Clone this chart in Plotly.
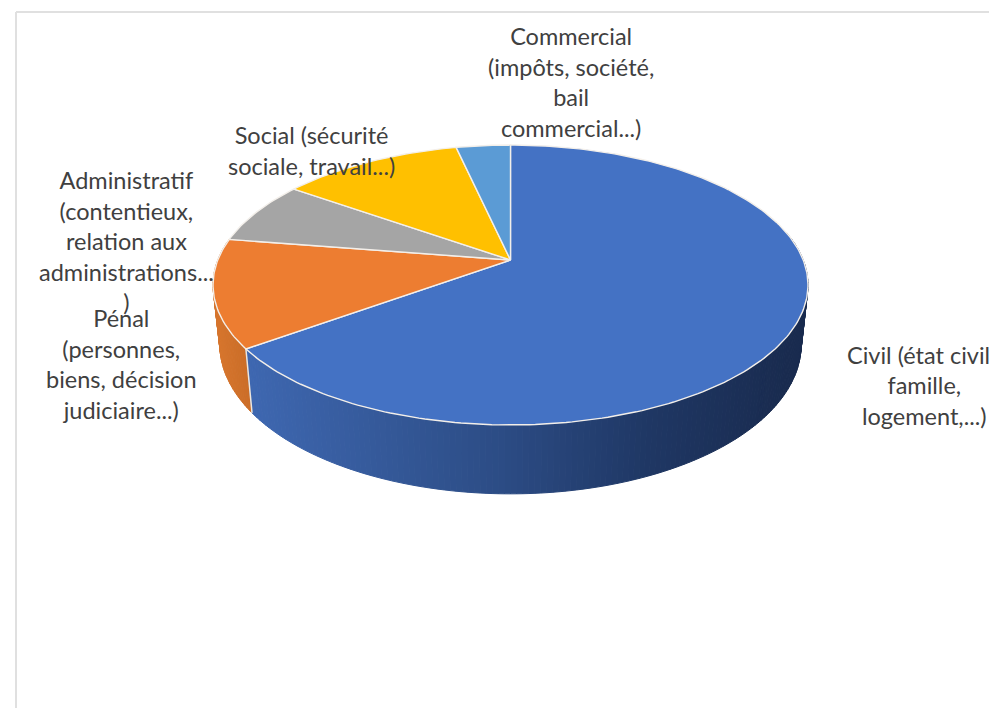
import math
import plotly.graph_objects as go

# ---- data ----
categories = [
    "Civil (état civil",
    "famille,<br>logement,...)",
    "Pénal<br>(personnes,<br>biens, décision<br>judiciaire...)",
    "Administratif<br>(contentieux,<br>relation aux<br>administrations...<br>)",
    "Social (sécurité<br>sociale, travail...)",
    "Commercial<br>(impôts, société,<br>bail<br>commercial...)",
]
values = [65.0, 12.5, 7.3, 11.7, 3.5]
colors = ["#4472C4", "#ED7D31", "#A5A5A5", "#FFC000", "#5B9BD5"]
label_x = [918.5, 924, 121, 126, 311, 571]
label_y = [354.5, 400, 364, 241, 150, 82]

# ---- projection of the tilted pie onto the page ----
APEX_X, APEX_Y = 510.5, 260.0
A, B, K = 292.7, 135.5, 0.1786
DEPTH, SX, SY = 58.0, 0.977, 1.066
TEXT = "#404040"
BLUE_STOPS = [(250, (62, 103, 176)), (500, (44, 76, 133)), (650, (31, 55, 100)), (790, (25, 43, 79))]
ORANGE_STOPS = [(215, (214, 117, 45)), (252, (200, 107, 38))]


def top(theta):
    u, v = math.sin(theta), math.cos(theta)
    w = 1 + K * v
    return APEX_X + A * u / w, APEX_Y - B * v / w


def bottom(theta):
    u, v = math.sin(theta), math.cos(theta)
    w = 1 + K * v
    return APEX_X + SX * A * u / w, APEX_Y + DEPTH - SY * B * v / w


def mix(stops, x):
    if x <= stops[0][0]:
        c = stops[0][1]
    elif x >= stops[-1][0]:
        c = stops[-1][1]
    else:
        for (x0, c0), (x1, c1) in zip(stops, stops[1:]):
            if x0 <= x <= x1:
                t = (x - x0) / (x1 - x0)
                c = tuple(round(a + (b - a) * t) for a, b in zip(c0, c1))
                break
    return "rgb(%d,%d,%d)" % tuple(c)


total = sum(values)
edges = [0.0]
for val in values:
    edges.append(edges[-1] + val / total * 2 * math.pi)

fig = go.Figure()


def poly(xs, ys, fill, line, width):
    fig.add_trace(go.Scatter(x=xs, y=ys, mode="lines", fill="toself", fillcolor=fill,
                             line=dict(color=line, width=width), hoverinfo="skip", showlegend=False))


# side wall: short strips between the upper and lower rims, front part only
wall_from, wall_to = math.radians(78), math.radians(282)
for i, stops in [(1, ORANGE_STOPS), (0, BLUE_STOPS)]:
    a0 = max(edges[i], wall_from)
    a1 = min(edges[i + 1], wall_to)
    n = max(2, int(math.degrees(a1 - a0)))
    for j in range(n):
        t0 = a0 + (a1 - a0) * j / n
        t1 = a0 + (a1 - a0) * (j + 1) / n
        p = [top(t0), top(t1), bottom(t1), bottom(t0), top(t0)]
        c = mix(stops, (p[0][0] + p[1][0]) / 2)
        poly([q[0] for q in p], [q[1] for q in p], c, c, 1)

# seam between the blue and the orange walls
seam = edges[1]
fig.add_trace(go.Scatter(x=[top(seam)[0], bottom(seam)[0]], y=[top(seam)[1], bottom(seam)[1]], mode="lines",
                         line=dict(color="#EFE6DC", width=1.5), hoverinfo="skip", showlegend=False))

# top face
for i, col in enumerate(colors):
    n = max(4, int(math.degrees(edges[i + 1] - edges[i])))
    pts = [top(edges[i] + (edges[i + 1] - edges[i]) * j / n) for j in range(n + 1)]
    xs = [APEX_X] + [q[0] for q in pts] + [APEX_X]
    ys = [APEX_Y] + [q[1] for q in pts] + [APEX_Y]
    poly(xs, ys, col, "#F3EFEA", 1.4)

annotations = [
    dict(x=x, y=y, xref="x", yref="y", text=t, showarrow=False, align="center",
         xanchor="center", yanchor="middle", font=dict(family="Lato", size=23.5, color=TEXT))
    for t, x, y in zip(categories, label_x, label_y)
]

frame = [
    dict(type="line", xref="x", yref="y", x0=16, x1=989, y0=12, y1=12, line=dict(color="#E0E0E0", width=2)),
    dict(type="line", xref="x", yref="y", x0=16, x1=16, y0=12, y1=708, line=dict(color="#E0E0E0", width=2)),
]

fig.update_layout(
    width=989, height=708, margin=dict(l=0, r=0, t=0, b=0),
    paper_bgcolor="white", plot_bgcolor="white", showlegend=False,
    xaxis=dict(range=[0, 989], visible=False, fixedrange=True),
    yaxis=dict(range=[708, 0], visible=False, fixedrange=True),
    annotations=annotations, shapes=frame,
)
fig.write_html("out.html", config={"displayModeBar": False},
               post_script="document.body.style.margin='0';document.body.style.overflow='hidden';")
